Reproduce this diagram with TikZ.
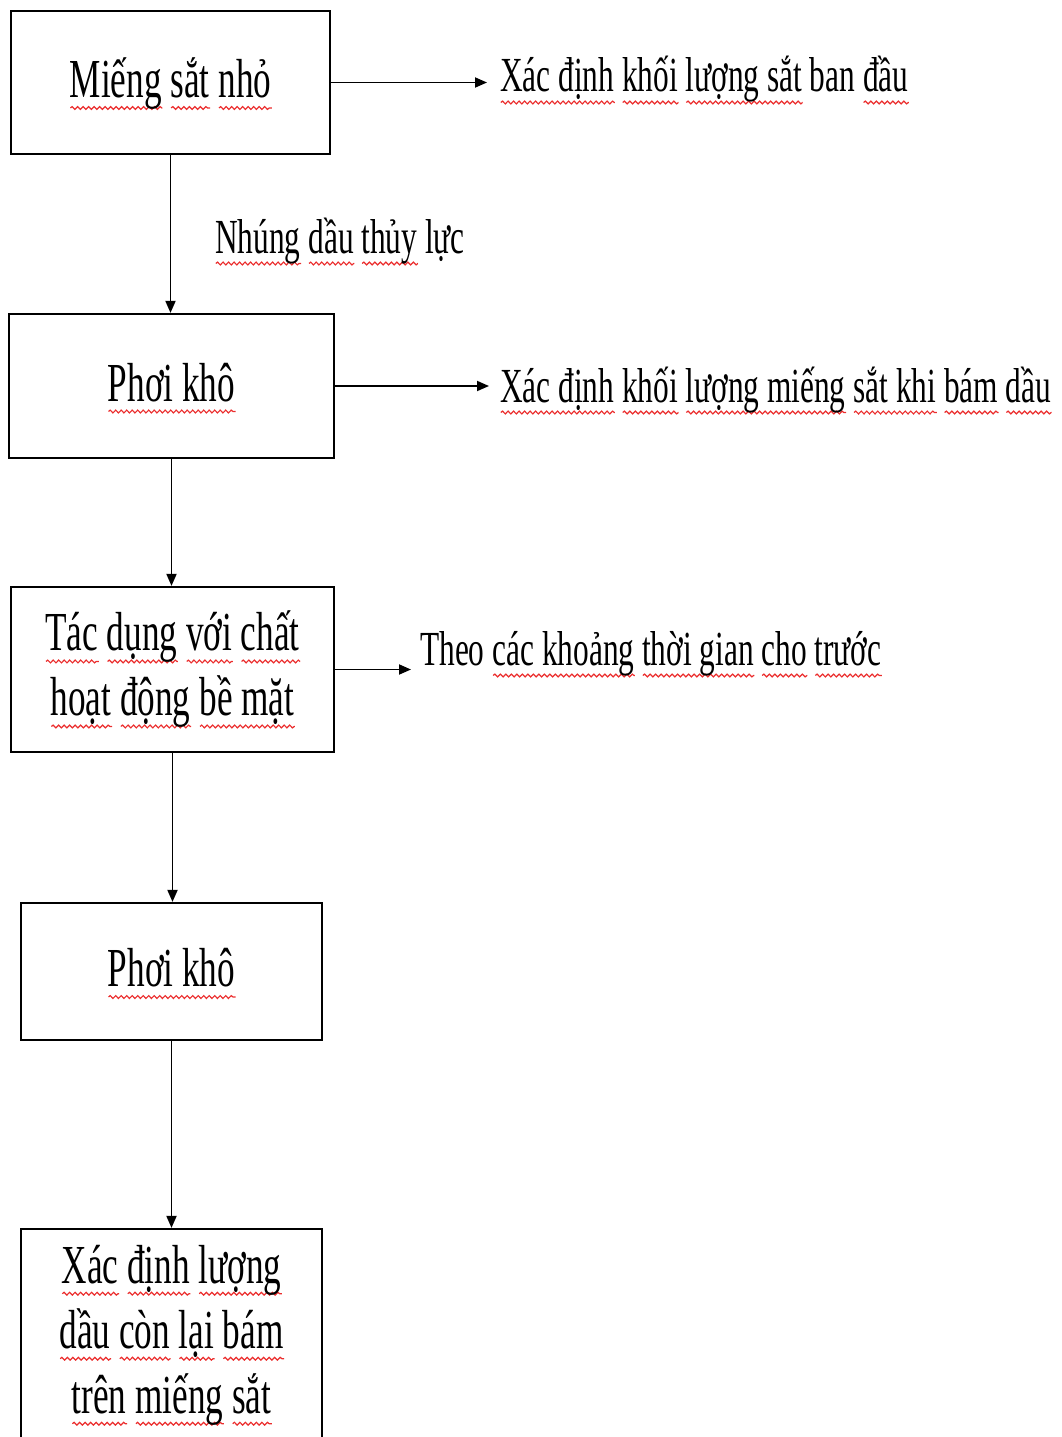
\documentclass[tikz,border=0pt]{standalone}
\usepackage{fontspec}
\setmainfont{Liberation Serif}[FakeStretch=0.64]
\usetikzlibrary{arrows.meta,decorations.pathmorphing}
\definecolor{wavered}{RGB}{235,45,45}
\newsavebox\sqbox
\newcommand\sq[1]{\sbox\sqbox{#1}\rlap{\smash{\tikz[baseline=0pt,x=1pt,y=1pt]\draw[wavered,line width=1.2pt,decorate,decoration={snake,amplitude=1.4pt,segment length=5.5pt}] (0,-10.5) -- (\the\wd\sqbox,-10.5);}}\usebox\sqbox}
\begin{document}
\begin{tikzpicture}[x=1pt,y=-1pt,
  box/.style={draw, line width=2.2pt, inner sep=0pt, font=\fontsize{55}{65}\selectfont, align=center},
  single/.style={text height=41pt, text depth=11pt},
  lbl/.style={anchor=base west, inner sep=0pt, font=\fontsize{49}{58}\selectfont},
  arr/.style={line width=1.8pt, -{Triangle[length=12pt,width=10pt]}}]
\useasboundingbox (0,0) rectangle (1062,1437);
\clip (0,0) rectangle (1062,1437);
% boxes
\node[box,single,minimum width=319pt,minimum height=143pt] (b1) at (170.5,82.5) {\sq{Miếng} \sq{sắt} \sq{nhỏ}};
\node[box,single,minimum width=325pt,minimum height=144pt] (b2) at (171.5,386) {\sq{Phơi khô}};
\node[box,minimum width=323pt,minimum height=165pt] (b3) at (172.5,669.5) {\sq{Tác} \sq{dụng} \sq{với} \sq{chất}\\ \sq{hoạt} \sq{động} \sq{bề mặt}};
\node[box,single,minimum width=301pt,minimum height=137pt] (b4) at (171.5,971.5) {\sq{Phơi khô}};
\node[box,minimum width=301pt,minimum height=212pt] (b5) at (171.5,1335) {\sq{Xác} \sq{định} \sq{lượng}\\ \sq{dầu} \sq{còn} \sq{lại} \sq{bám}\\ \sq{trên} \sq{miếng} \sq{sắt}};
% side labels
\node[lbl] (l0) at (215,253) {\sq{Nhúng} \sq{dầu} \sq{thủy} lực};
\node[lbl] (l1) at (500,92) {\sq{Xác định} \sq{khối} \sq{lượng sắt} ban \sq{đầu}};
\node[lbl] (l2) at (500,402) {\sq{Xác định} \sq{khối} \sq{lượng miếng} \sq{sắt khi} \sq{bám} \sq{dầu}};
\node[lbl] (l3) at (420,665) {Theo \sq{các khoảng} \sq{thời gian} \sq{cho} \sq{trước}};
% arrow tips
\coordinate (t1) at (487,82.5);
\coordinate (t2) at (489,386);
\coordinate (t3) at (411,669.5);
% connectors
\draw[arr] (b1.east) -- (t1);
\draw[arr] (b2.east) -- (t2);
\draw[arr] (b3.east) -- (t3);
\draw[arr] (b1.south) -- (b1.south |- b2.north);
\draw[arr] (b2.south) -- (b2.south |- b3.north);
\draw[arr] (b3.south) -- (b3.south |- b4.north);
\draw[arr] (b4.south) -- (b4.south |- b5.north);
\end{tikzpicture}
\end{document}
